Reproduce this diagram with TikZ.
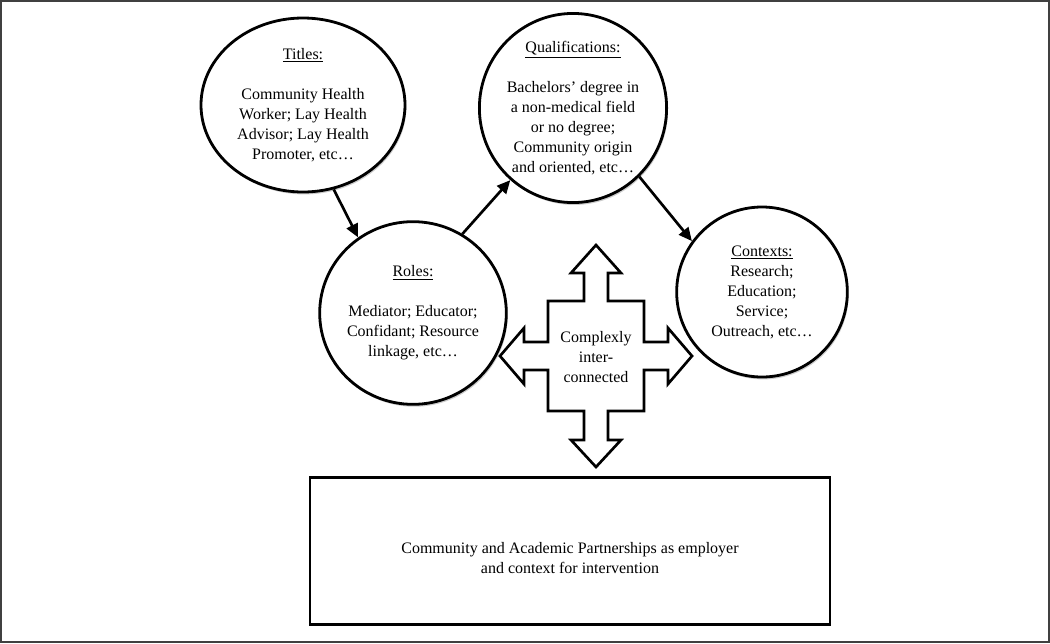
\documentclass[tikz,border=0pt]{standalone}
\usepackage{fontspec}
\setmainfont{Liberation Serif}
\usetikzlibrary{shapes.geometric,arrows.meta,shadows}

\tikzset{
  bubble/.style={ellipse, draw, line width=2.1pt, fill=white, align=center, inner sep=0pt,
    drop shadow={shadow xshift=1pt, shadow yshift=-1.8pt, opacity=.4}},
  link/.style={line width=2pt, -{Triangle[length=10pt,width=9pt]}},
}
\newcommand{\head}[1]{\underline{#1}}

\begin{document}
\begin{tikzpicture}[x=0.75pt, y=-0.75pt, font=\fontsize{12}{15}\selectfont]
\useasboundingbox (0,0) rectangle (1050,643);
%\draw[step=50, gray!30] (0,0) grid (1050,643);
\draw[line width=1.5pt, black!75] (1,1) rectangle (1049,642);

\node[bubble, minimum width=153pt, minimum height=130.5pt] (titles) at (303,105)
  {\head{Titles:}\\[15pt] Community Health\\ Worker; Lay Health\\ Advisor; Lay Health\\ Promoter, etc…};
\node[bubble, minimum width=136pt, minimum height=135pt] (quals) at (573,108)
  {\head{Qualifications:}\\[15pt] Bachelors’ degree in\\ a non-medical field\\ or no degree;\\ Community origin\\ and oriented, etc…};
\node[bubble, minimum width=136pt, minimum height=137pt] (roles) at (413,313)
  {\head{Roles:}\\[15pt] Mediator; Educator;\\ Confidant; Resource\\ linkage, etc…};
\node[bubble, minimum width=128pt, minimum height=127.5pt] (contexts) at (762,292)
  {\head{Contexts:}\\ Research;\\ Education;\\ Service;\\ Outreach, etc…};

\draw[link] (titles.-70) -- (roles.126);
\draw[link] (roles.58) -- (quals.-131);
\draw[link] (quals.-46) -- (contexts.144);

% four-way arrow
\begin{scope}[shift={(596,356)}]
\draw[line width=2pt, fill=white] (0,-111) -- (25,-83) -- (12,-83) -- (12,-55) -- (48,-55) -- (48,-14)
  -- (72,-14) -- (72,-28) -- (96,0) -- (72,28) -- (72,14) -- (48,14) -- (48,55) -- (12,55)
  -- (12,84) -- (25,84) -- (0,111) -- (-25,84) -- (-12,84) -- (-12,55) -- (-48,55) -- (-48,14)
  -- (-72,14) -- (-72,28) -- (-96,0) -- (-72,-28) -- (-72,-14) -- (-48,-14) -- (-48,-55)
  -- (-12,-55) -- (-12,-83) -- (-25,-83) -- cycle;
\end{scope}
\node[align=center] (hub) at (596,357) {Complexly\\ inter-\\ connected};

\node[draw, line width=2pt, minimum width=390pt, minimum height=110pt] (partners) at (570,551) {};
\node[align=center] (partnerstext) at (570,558)
  {Community and Academic Partnerships as employer\\ and context for intervention};
\end{tikzpicture}
\end{document}
